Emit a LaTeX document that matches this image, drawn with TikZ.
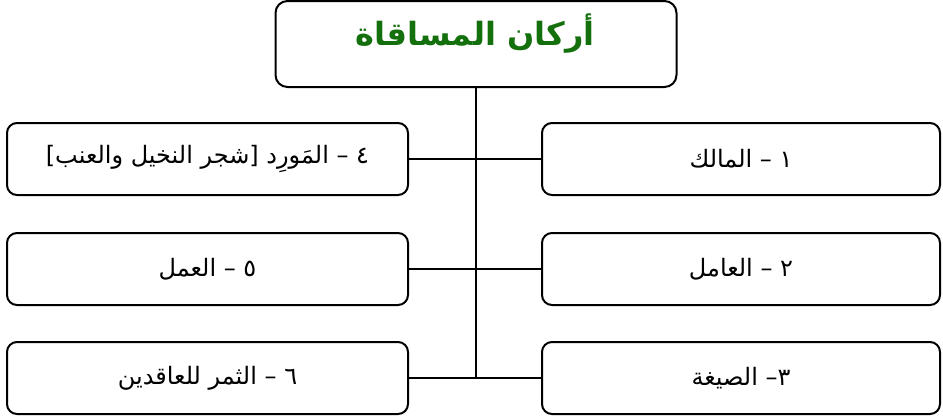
\documentclass[tikz,border=0pt]{standalone}
\usepackage{fontspec}
\newfontfamily\arabicfont[Script=Arabic]{DejaVu Sans}
\TeXXeTstate=1
\definecolor{titlegreen}{RGB}{20,112,12}
\begin{document}
\begin{tikzpicture}[x=1pt,y=-1pt,
  box/.style={draw, line width=2pt, rounded corners=10pt, minimum height=72pt, inner sep=0pt,
    font=\arabicfont\fontsize{24}{30}\selectfont},
  leftbox/.style={box, minimum width=401pt},
  rightbox/.style={box, minimum width=398pt},
  link/.style={line width=2pt}]
\useasboundingbox (0,0) rectangle (943,418);
\node[draw, line width=2pt, rounded corners=12pt, minimum width=401pt, minimum height=86pt] (top) at (476,44) {};
\node[font=\arabicfont\bfseries\fontsize{32}{38}\selectfont, text=titlegreen] (title) at (475,34) {\beginR أركان المساقاة\endR};
\node[rightbox] (r1) at (741,159) {\beginR ١ – المالك\endR};
\node[rightbox] (r2) at (741,269) {\beginR ٢ – العامل\endR};
\node[rightbox] (r3) at (741,378) {\beginR ٣– الصيغة\endR};
\node[leftbox] (l1) at (207.5,159) {\beginR ٤ – المَورِد [شجر النخيل والعنب]\endR};
\node[leftbox] (l2) at (207.5,269) {\beginR ٥ – العمل\endR};
\node[leftbox] (l3) at (207.5,378) {\beginR ٦ – الثمر للعاقدين\endR};
\draw[link] (top.south) -- (top.south |- r3.west);
\draw[link] (l1.east) -- (r1.west);
\draw[link] (l2.east) -- (r2.west);
\draw[link] (l3.east) -- (r3.west);
\end{tikzpicture}
\end{document}
